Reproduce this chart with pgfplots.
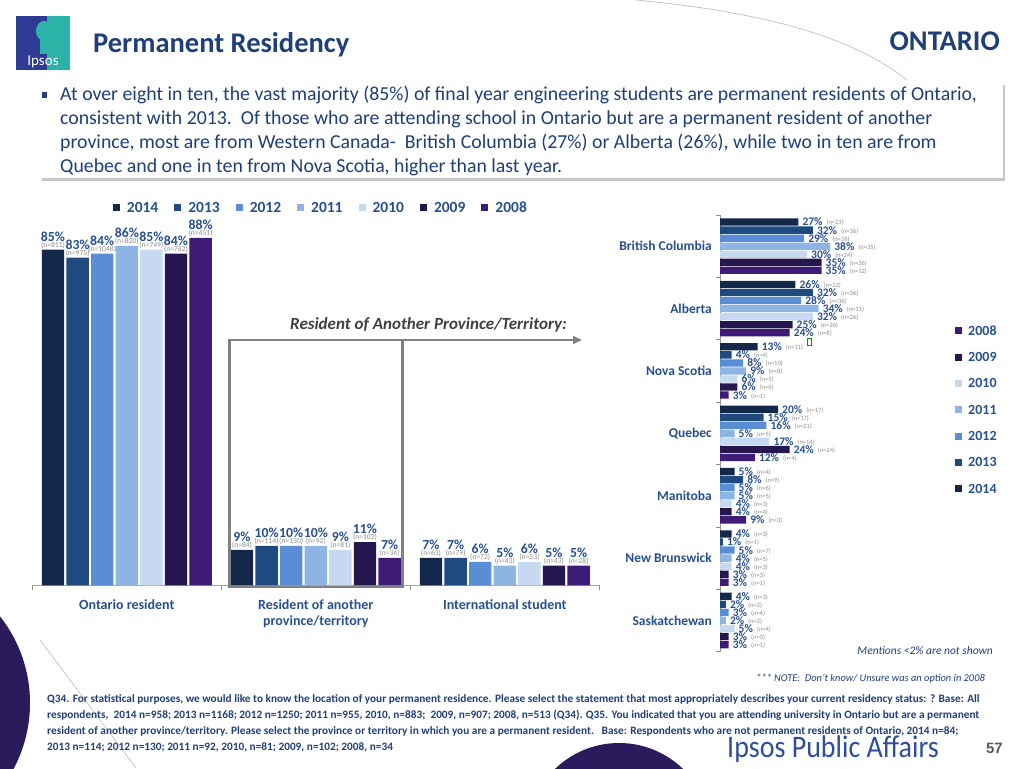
\documentclass[border=0pt]{standalone}
\usepackage{pgfplots}
\pgfplotsset{compat=1.18}
\usepackage{pgfplotstable}
\usepackage{fontspec}
\setmainfont{Carlito}
\newfontfamily\arialfont{Liberation Sans}
\usetikzlibrary{shadows,arrows.meta}
\pgfplotsset{/pgf/number format/assume math mode=true}

\definecolor{c2014}{HTML}{13284A}
\definecolor{c2013}{HTML}{1F4A80}
\definecolor{c2012}{HTML}{5A8ED4}
\definecolor{c2011}{HTML}{8EB4E3}
\definecolor{c2010}{HTML}{C6D9F1}
\definecolor{c2009}{HTML}{261650}
\definecolor{c2008}{HTML}{3F1B78}
\definecolor{lblue}{HTML}{27508F}
\definecolor{tblue}{HTML}{1F3F7A}
\definecolor{ngray}{HTML}{8C8C8C}
\definecolor{circ}{HTML}{2B1A5C}
\definecolor{logob}{HTML}{2E3A94}
\definecolor{logot}{HTML}{2AB3A6}
\definecolor{ipsosblue}{HTML}{2E4D9B}

\newcommand{\fs}[1]{\fontsize{#1}{#1}\selectfont}
\newcommand{\pnum}[1]{\pgfmathprintnumber[fixed,precision=0,1000 sep={}]{#1}}

\pgfplotstableread{
x y14 n14 y13 n13 y12 n12 y11 n11 y10 n10 y09 n09 y08 n08
0 85 811 83 975 84 1048 86 820 85 749 84 762 88 451
1 9 84 10 114 10 130 10 92 9 81 11 102 7 34
2 7 63 7 79 6 72 5 43 6 53 5 43 5 28
}\resid

\pgfplotstableread{
c v14 n14 v13 n13 v12 n12 v11 n11 v10 n10 v09 n09 v08 n08
0 27 23 32 36 29 38 38 35 30 24 35 36 35 12
1 26 22 32 36 28 36 34 31 32 26 25 26 24 8
2 13 11 4 4 8 10 9 8 6 5 6 6 3 1
3 20 17 15 17 16 21 5 5 17 14 24 24 12 4
4 5 4 8 9 5 6 5 5 4 3 4 4 9 3
5 4 3 1 1 5 7 4 5 4 3 3 3 3 1
6 4 3 2 2 3 4 2 2 5 4 3 3 3 1
}\prov

\begin{document}
\begin{tikzpicture}[x=1pt,y=1pt]
\path (0,0) rectangle (1024,768);
% decorative shapes
\begin{scope}
\clip (0,0) rectangle (1024,768);
\fill[circ] (-110,65) circle (140);
\fill[circ] (619,-67) circle (92);
\draw[black!25, line width=0.6pt] (40,128) -- (136,0);
\draw[black!25, line width=0.7pt] (636,768) .. controls (760,756) and (850,733) .. (907,688);
\end{scope}

% logo
\fill[logob] (16,698) rectangle (70,752);
\fill[logot] (47,698) rectangle (70,752);
\fill[logot] (44,737) ellipse (8 and 10);
\fill[logot] (40,714) rectangle (50,730);
\node[anchor=base, inner sep=0, text=white, font=\fs{15}] at (43,702) {Ipsos};

% titles
\node[anchor=base west, inner sep=0, text=tblue, font=\fs{28.5}\bfseries] at (93,715.5) {Permanent Residency};
\node[anchor=base east, inner sep=0, text=tblue, font=\fs{28.5}\bfseries] at (1000,717) {ONTARIO};

% text box
\path[fill=white, drop shadow={shadow xshift=1.5pt, shadow yshift=-3pt, fill=black!50, opacity=0.45}] (40,590) rectangle (1003,686);
\fill[tblue] (42,670) rectangle (47,676);
\begin{scope}[every node/.style={anchor=base west, inner sep=0, text=tblue, font=\fs{19.8}}]
\node at (60,667) {At over eight in ten, the vast majority (85\%) of final year engineering students are permanent residents of Ontario,};
\node at (60,643) {consistent with 2013.\ \ Of those who are attending school in Ontario but are a permanent resident of another};
\node at (60,619) {province, most are from Western Canada-\ \ British Columbia (27\%) or Alberta (26\%), while two in ten are from};
\node at (60,595) {Quebec and one in ten from Nova Scotia, higher than last year.};
\end{scope}

% left chart
\begin{axis}[
 at={(32.3pt,182.5pt)}, anchor=south west, scale only axis,
 width=567pt, height=395pt,
 xmin=-0.5, xmax=2.5, ymin=0, ymax=100,
 axis x line*=bottom, axis y line=none,
 ybar=2.2pt, bar width=22.4pt,
 xtick={0,1,2},
 xticklabels={Ontario resident,{Resident of another\\province/territory},International student},
 xticklabel style={font=\fontsize{14}{16}\selectfont\bfseries, text=lblue, align=center, inner sep=0pt, yshift=-14pt},
 major tick length=0pt,
 minor xtick={-0.5,0.5,1.5,2.5}, minor tick length=5pt, tick align=outside,
 minor tick style={draw=black!45, line width=0.8pt},
 axis line style={draw=black!35, line width=0.8pt},
 point meta=y,
 nodes near coords={\makebox[0pt]{\raisebox{6.5pt}{\fs{13.8}\bfseries\color{lblue}\pgfmathprintnumber{\pgfplotspointmeta}\%}}\makebox[0pt]{\fs{7.6}\color{ngray}(n=\pnum{\nval})}},
 every node near coord/.append style={anchor=south, inner sep=0pt, yshift=0.8pt},
 legend columns=7,
 legend style={at={(0.5072,0.9557)}, anchor=center, draw=none, fill=none, inner sep=0pt,
   nodes={inner sep=0pt, text height=10pt, text depth=0pt, font=\fs{15.5}\bfseries, text=lblue},
   /tikz/every odd column/.append style={column sep=7pt},
   /tikz/every even column/.append style={column sep=16pt}},
 legend image code/.code={\fill[#1] (0pt,-3.5pt) rectangle (7pt,3.5pt);},
]
\addplot[fill=c2014, draw=none, visualization depends on={\thisrow{n14} \as \nval}] table[x=x,y=y14]{\resid};
\addplot[fill=c2013, draw=none, visualization depends on={\thisrow{n13} \as \nval}] table[x=x,y=y13]{\resid};
\addplot[fill=c2012, draw=none, visualization depends on={\thisrow{n12} \as \nval}] table[x=x,y=y12]{\resid};
\addplot[fill=c2011, draw=none, visualization depends on={\thisrow{n11} \as \nval}] table[x=x,y=y11]{\resid};
\addplot[fill=c2010, draw=none, visualization depends on={\thisrow{n10} \as \nval}] table[x=x,y=y10]{\resid};
\addplot[fill=c2009, draw=none, visualization depends on={\thisrow{n09} \as \nval}] table[x=x,y=y09]{\resid};
\addplot[fill=c2008, draw=none, visualization depends on={\thisrow{n08} \as \nval}] table[x=x,y=y08]{\resid};
\legend{2014,2013,2012,2011,2010,2009,2008}
\end{axis}

% right chart
\begin{axis}[
 at={(720pt,116.3pt)}, anchor=south west, scale only axis,
 width=217.5pt, height=436.7pt,
 xmin=0, xmax=75, ymin=-0.5, ymax=6.5, y dir=reverse,
 axis y line*=left, axis x line=none,
 xbar=0.74pt, bar width=7.3pt,
 ytick={0,1,2,3,4,5,6},
 yticklabels={British Columbia,Alberta,Nova Scotia,Quebec,Manitoba,New Brunswick,Saskatchewan},
 yticklabel style={font=\fs{13.5}\bfseries, text=lblue, inner sep=0pt, xshift=-8pt},
 major tick length=0pt,
 minor ytick={-0.5,0.5,1.5,2.5,3.5,4.5,5.5,6.5}, minor tick length=4pt, tick align=outside,
 minor tick style={draw=black!45, line width=0.8pt},
 axis line style={draw=black!40, line width=0.8pt},
 point meta=x,
 nodes near coords={{\fs{11.5}\bfseries\color{lblue}\pgfmathprintnumber{\pgfplotspointmeta}\%}\hspace{4pt}\raisebox{1pt}{\fs{6.5}\color{ngray}(n=\pnum{\nval})}},
 every node near coord/.append style={anchor=west, inner sep=0pt, xshift=4pt},
 legend columns=1,
 legend style={at={(1.0805,0.7454)}, anchor=north west, draw=none, fill=none, inner sep=0pt, row sep=17.3pt,
   nodes={inner sep=0pt, text height=9pt, text depth=0pt, font=\fs{14}\bfseries, text=lblue},
   /tikz/every odd column/.append style={column sep=6pt}},
 legend image code/.code={\fill[#1] (0pt,-3.5pt) rectangle (7pt,3.5pt);},
]
\addplot[fill=c2008, draw=none, visualization depends on={\thisrow{n08} \as \nval}] table[x=v08,y=c]{\prov};
\addplot[fill=c2009, draw=none, visualization depends on={\thisrow{n09} \as \nval}] table[x=v09,y=c]{\prov};
\addplot[fill=c2010, draw=none, visualization depends on={\thisrow{n10} \as \nval}] table[x=v10,y=c]{\prov};
\addplot[fill=c2011, draw=none, visualization depends on={\thisrow{n11} \as \nval}] table[x=v11,y=c]{\prov};
\addplot[fill=c2012, draw=none, visualization depends on={\thisrow{n12} \as \nval}] table[x=v12,y=c]{\prov};
\addplot[fill=c2013, draw=none, visualization depends on={\thisrow{n13} \as \nval}] table[x=v13,y=c]{\prov};
\addplot[fill=c2014, draw=none, visualization depends on={\thisrow{n14} \as \nval}] table[x=v14,y=c]{\prov};
\legend{2008,2009,2010,2011,2012,2013,2014}
\end{axis}

% annotation box
\draw[black!50, line width=2.5pt] (229.5,181) rectangle (402.5,428);
\draw[black!50, line width=2pt, -{Triangle[length=9pt,width=8pt]}] (402.5,428) -- (582,428);
\node[anchor=base west, inner sep=0, text=black!75, font=\fs{17}\bfseries\itshape] at (290,438) {Resident of Another Province/Territory:};
\draw[green!60!black, line width=0.6pt] (807.5,423) rectangle (811,430);

% notes
\node[anchor=base east, inner sep=0, text=tblue, font=\fs{11.5}\itshape] at (993,114) {Mentions <2\% are not shown};
\node[anchor=base east, inner sep=0, text=tblue, font=\fs{10.4}\itshape] at (985,87) {*** NOTE:\ \ Don't know/ Unsure was an option in 2008};
\begin{scope}[every node/.style={anchor=base west, inner sep=0, text=tblue, font=\fs{11.3}\bfseries}]
\node at (47,66) {Q34. For statistical purposes, we would like to know the location of your permanent residence. Please select the statement that most appropriately describes your current residency status: ? Base: All};
\node at (47,50) {respondents,\ \ 2014 n=958; 2013 n=1168; 2012 n=1250; 2011 n=955, 2010, n=883;\ \ 2009, n=907; 2008, n=513 (Q34). Q35. You indicated that you are attending university in Ontario but are a permanent};
\node at (47,34) {resident of another province/territory. Please select the province or territory in which you are a permanent resident.\ \ \ Base: Respondents who are not permanent residents of Ontario, 2014 n=84;};
\node at (47,18) {2013 n=114; 2012 n=130; 2011 n=92, 2010, n=81; 2009, n=102; 2008, n=34};
\end{scope}
\node[anchor=base west, inner sep=0, text=ipsosblue, font=\fs{28}] at (727,11) {\scalebox{1}[1.12]{Ipsos Public Affairs}};
\node[anchor=base east, inner sep=0, text=black!65, font=\arialfont\fs{15}\bfseries] at (1003,15) {57};
\end{tikzpicture}
\end{document}
